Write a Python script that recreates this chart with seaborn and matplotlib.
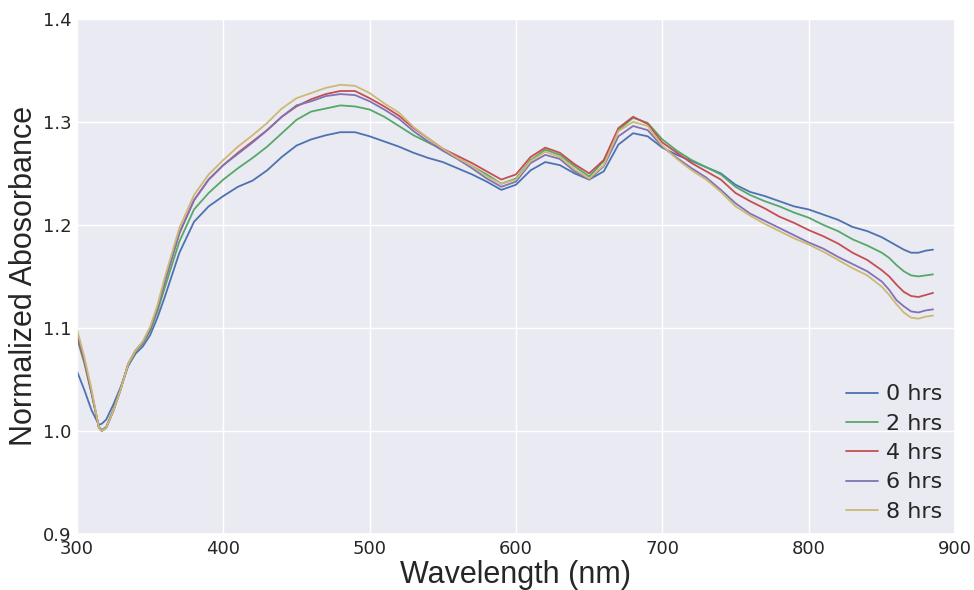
import numpy as np
import pandas as pd
import matplotlib
matplotlib.use("Agg")
import matplotlib.pyplot as plt
import seaborn as sns

wavelength = [300, 305, 310, 315, 317, 320, 325, 330, 335, 340, 345, 350, 355, 360,
              370, 380, 390, 400, 410, 420, 430, 440, 450, 460, 470, 480, 490, 500,
              510, 520, 530, 540, 550, 560, 570, 580, 590, 600, 610, 620, 630, 640,
              650, 660, 670, 680, 690, 700, 710, 720, 730, 740, 750, 760, 770, 780,
              790, 800, 810, 820, 830, 840, 850, 855, 860, 865, 870, 875, 880, 885]

hrs_0 = [1.058, 1.040, 1.020, 1.006, 1.007, 1.011, 1.026, 1.043, 1.063, 1.075, 1.082, 1.093, 1.110, 1.130,
         1.173, 1.203, 1.218, 1.228, 1.237, 1.243, 1.253, 1.266, 1.277, 1.283, 1.287, 1.290, 1.290, 1.286,
         1.281, 1.276, 1.270, 1.265, 1.261, 1.255, 1.249, 1.242, 1.234, 1.239, 1.253, 1.261, 1.258, 1.250,
         1.244, 1.252, 1.278, 1.289, 1.286, 1.275, 1.268, 1.262, 1.256, 1.250, 1.239, 1.232, 1.228, 1.223,
         1.218, 1.215, 1.210, 1.205, 1.198, 1.194, 1.188, 1.184, 1.180, 1.176, 1.173, 1.173, 1.175, 1.176]

hrs_2 = [1.090, 1.066, 1.036, 1.004, 1.001, 1.004, 1.021, 1.042, 1.064, 1.077, 1.085, 1.097, 1.116, 1.139,
         1.184, 1.215, 1.231, 1.244, 1.255, 1.265, 1.276, 1.289, 1.302, 1.310, 1.313, 1.316, 1.315, 1.312,
         1.305, 1.296, 1.287, 1.280, 1.273, 1.265, 1.257, 1.249, 1.240, 1.245, 1.263, 1.273, 1.268, 1.257,
         1.247, 1.262, 1.292, 1.304, 1.299, 1.283, 1.272, 1.263, 1.256, 1.249, 1.237, 1.229, 1.223, 1.218,
         1.212, 1.207, 1.200, 1.194, 1.186, 1.180, 1.173, 1.168, 1.161, 1.155, 1.151, 1.150, 1.151, 1.152]

hrs_4 = [1.093, 1.068, 1.037, 1.003, 1.000, 1.003, 1.020, 1.041, 1.065, 1.078, 1.086, 1.099, 1.119, 1.145,
         1.192, 1.224, 1.244, 1.258, 1.270, 1.281, 1.292, 1.305, 1.315, 1.322, 1.327, 1.330, 1.330, 1.323,
         1.315, 1.306, 1.294, 1.284, 1.274, 1.267, 1.260, 1.252, 1.244, 1.249, 1.266, 1.275, 1.270, 1.259,
         1.250, 1.263, 1.294, 1.305, 1.298, 1.280, 1.270, 1.260, 1.252, 1.244, 1.231, 1.223, 1.216, 1.208,
         1.202, 1.195, 1.189, 1.182, 1.173, 1.166, 1.156, 1.150, 1.142, 1.135, 1.131, 1.130, 1.132, 1.134]

hrs_6 = [1.095, 1.070, 1.038, 1.003, 1.000, 1.003, 1.020, 1.041, 1.065, 1.078, 1.086, 1.099, 1.119, 1.145,
         1.192, 1.224, 1.244, 1.258, 1.269, 1.280, 1.292, 1.305, 1.316, 1.320, 1.325, 1.327, 1.326, 1.320,
         1.312, 1.303, 1.291, 1.281, 1.272, 1.264, 1.255, 1.245, 1.237, 1.242, 1.260, 1.268, 1.264, 1.252,
         1.244, 1.257, 1.286, 1.296, 1.292, 1.276, 1.265, 1.255, 1.246, 1.234, 1.221, 1.211, 1.204, 1.197,
         1.190, 1.183, 1.177, 1.169, 1.162, 1.155, 1.145, 1.137, 1.127, 1.121, 1.116, 1.115, 1.117, 1.118]

hrs_8 = [1.099, 1.072, 1.040, 1.003, 1.000, 1.003, 1.020, 1.041, 1.065, 1.078, 1.087, 1.101, 1.122, 1.149,
         1.197, 1.229, 1.249, 1.263, 1.276, 1.287, 1.299, 1.313, 1.323, 1.328, 1.333, 1.336, 1.335, 1.328,
         1.318, 1.309, 1.295, 1.284, 1.274, 1.265, 1.257, 1.247, 1.240, 1.244, 1.262, 1.271, 1.266, 1.254,
         1.245, 1.258, 1.291, 1.300, 1.296, 1.277, 1.264, 1.253, 1.244, 1.232, 1.218, 1.209, 1.201, 1.194,
         1.187, 1.181, 1.174, 1.166, 1.158, 1.151, 1.140, 1.132, 1.123, 1.115, 1.110, 1.109, 1.111, 1.112]

series_labels = ["0 hrs", "2 hrs", "4 hrs", "6 hrs", "8 hrs"]
series_values = [hrs_0, hrs_2, hrs_4, hrs_6, hrs_8]
x_ticks = [300, 400, 500, 600, 700, 800, 900]
y_ticks = [0.9, 1.0, 1.1, 1.2, 1.3, 1.4]

sns.set_theme(style="darkgrid", palette="deep6")
plt.rcParams["font.family"] = ["DejaVu Sans"]

frames = [pd.DataFrame({"Wavelength": wavelength, "Absorbance": vals, "Time": lab})
          for lab, vals in zip(series_labels, series_values)]
df = pd.concat(frames, ignore_index=True)

fig = plt.figure(figsize=(9.74, 5.90), dpi=100)
ax = fig.add_axes([0.079, 0.095, 0.9015, 0.873])

sns.lineplot(data=df, x="Wavelength", y="Absorbance", hue="Time",
             palette=sns.color_palette("deep6", 5), linewidth=1.3, ax=ax)

ax.set_xlim(300, 900)
ax.set_ylim(0.9, 1.4)
ax.set_xticks(x_ticks)
ax.set_yticks(y_ticks)
ax.set_yticklabels([f"{v:.1f}" for v in y_ticks], fontsize=13, color="#262626")
ax.set_xticklabels([str(v) for v in x_ticks], fontsize=13, color="#262626")
ax.tick_params(axis="both", length=0, pad=4)

label_font = ["Liberation Sans", "DejaVu Sans"]
ax.set_xlabel("Wavelength (nm)", fontsize=22, family=label_font,
              color="#262626", labelpad=2)
ax.set_ylabel("Normalized Abosorbance", fontsize=22, family=label_font,
              color="#262626", labelpad=2.5)

leg = ax.legend(loc="lower right", frameon=False, fontsize=16, handlelength=1.45,
                handletextpad=0.36, labelspacing=0.42, borderpad=0.35,
                borderaxespad=0.2)
for line in leg.get_lines():
    line.set_linewidth(1.3)

fig.savefig("out.png", dpi=100)
